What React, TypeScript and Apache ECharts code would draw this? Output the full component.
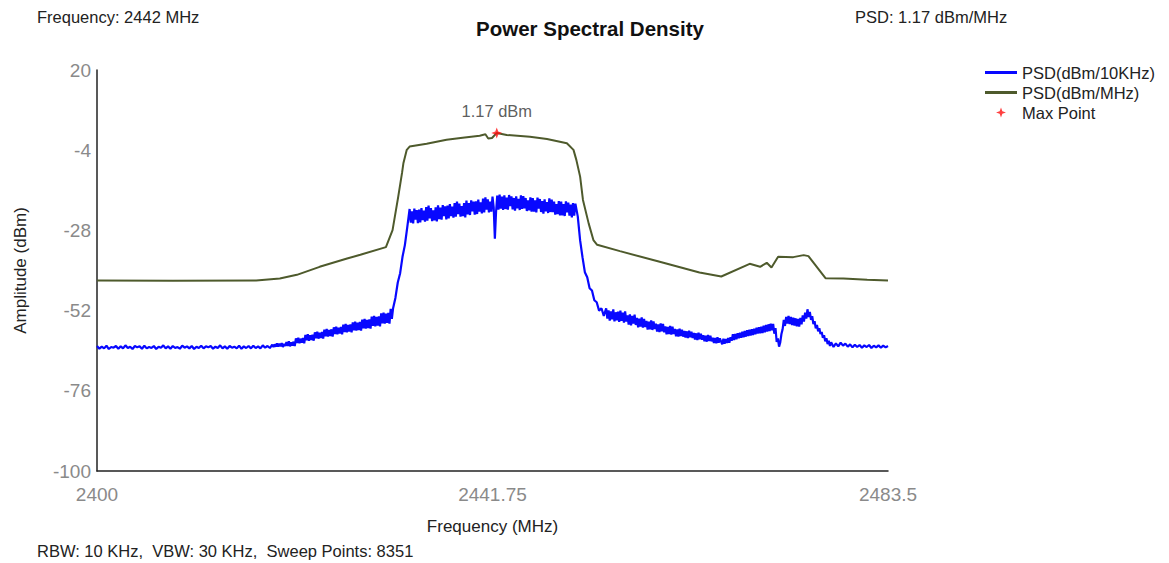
import React, { useEffect, useRef } from "react";
import * as echarts from "echarts";

// ---- data ----
const F0 = 2400; // MHz, start of sweep
const F1 = 2483.5; // MHz, end of sweep
const Y_MIN = -100;
const Y_MAX = 20;
const xTicks = [2400, 2441.75, 2483.5];
const yTicks = [-100, -76, -52, -28, -4, 20];

// PSD (dBm/10KHz), in pieces (start MHz, step MHz, values)
// 2400 - 2418.25, every 0.25 MHz
const psdFloorLeft = [
  -62.6, -63.4, -62.8, -63.3, -62.5, -63.5, -62.9, -63.1, -62.6, -63.4,
  -62.7, -63.3, -62.4, -63.2, -62.8, -63.5, -62.6, -63.0, -62.7, -63.4,
  -62.5, -63.3, -62.9, -63.2, -62.6, -63.5, -62.8, -63.1, -62.4, -63.3,
  -62.7, -63.4, -62.6, -63.2, -62.9, -63.4, -62.5, -63.1, -62.7, -63.3,
  -62.6, -63.5, -62.8, -63.2, -62.5, -63.3, -62.7, -63.0, -62.6, -63.4,
  -62.8, -63.2, -62.4, -63.3, -62.7, -63.4, -62.6, -63.1, -62.8, -63.3,
  -62.5, -63.4, -62.7, -63.2, -62.6, -63.3, -62.5, -63.2, -62.7, -63.3,
  -62.4, -63.1, -62.6, -63.2,
];
// 2418.5 - 2431.25, every 0.125 MHz
const psdRamp = [
  -62.2, -62.9, -62.1, -62.8,
  -61.8, -62.8, -61.9, -62.7, -61.7, -62.9, -62.0, -62.6,
  -61.4, -62.6, -61.2, -62.7, -61.5, -62.5, -61.3, -62.6,
  -60.3, -61.7, -60.1, -61.8, -60.4, -61.6, -60.2, -61.8,
  -59.3, -60.9, -59.1, -61.0, -59.4, -60.8, -59.2, -61.0,
  -58.5, -60.3, -58.3, -60.4, -58.6, -60.2, -58.4, -60.4,
  -57.7, -59.7, -57.5, -59.8, -57.8, -59.6, -57.6, -59.8,
  -57.0, -59.0, -56.8, -59.1, -57.1, -58.9, -56.9, -59.1,
  -56.2, -58.4, -56.0, -58.5, -56.3, -58.3, -56.1, -58.5,
  -55.5, -57.9, -55.3, -58.0, -55.6, -57.8, -55.4, -58.0,
  -54.7, -57.3, -54.5, -57.4, -54.8, -57.2, -54.6, -57.4,
  -53.8, -56.6, -53.6, -56.7, -53.9, -56.5, -53.7, -56.7,
  -52.8, -55.8, -52.6, -55.9, -52.9, -55.7, -52.7, -55.9,
  -51.5, -54.5, -51.4,
];
// 2431.5 - 2432.75, every 0.25 MHz
const psdRise = [-48.2, -43.6, -40.8, -35.9, -32.4, -27.1];
// 2433 - 2450.5, every 0.125 MHz
const psdCore = [
  -21.6, -25.7, -22.3, -25.9, -21.5, -24.8, -21.9, -25.8,
  -21.8, -25.6, -21.3, -24.9, -22.1, -25.4, -21.0, -25.1,
  -20.6, -24.4, -21.3, -25.2, -22.0, -25.0, -21.1, -25.3,
  -20.5, -24.6, -21.2, -24.8, -20.4, -23.7, -20.8, -24.7,
  -20.6, -24.4, -20.1, -23.7, -20.9, -24.2, -19.8, -23.9,
  -19.4, -23.1, -20.0, -23.9, -20.7, -23.7, -19.8, -24.1,
  -19.1, -23.2, -19.8, -23.4, -19.0, -22.3, -19.4, -23.3,
  -19.3, -23.1, -18.8, -22.4, -19.6, -22.9, -18.5, -22.6,
  -18.1, -21.8, -18.7, -22.6, -19.4, -22.4, -17.9, -21.0,
  -30.5, -22.5, -17.6, -21.8, -17.3, -21.5, -17.9, -21.9,
  -17.5, -21.6, -18.2, -21.8, -17.4, -20.7, -17.8, -21.7,
  -18.3, -22.1, -17.8, -21.4, -18.6, -21.9, -17.5, -21.6,
  -17.7, -21.4, -18.3, -22.2, -19.0, -22.0, -18.1, -22.4,
  -18.3, -22.4, -19.0, -22.6, -18.2, -21.5, -18.6, -22.5,
  -19.2, -23.0, -18.7, -22.3, -19.5, -22.8, -18.4, -22.5,
  -18.8, -22.5, -19.4, -23.3, -20.1, -23.1, -19.2, -23.5,
  -19.4, -23.5, -20.1, -23.7, -19.3, -22.6, -19.7, -23.6,
  -20.3, -24.1, -19.8, -23.6, -20.0,
];
// 2450.75 - 2453.5, every 0.25 MHz
const psdFall = [-23.8, -31.0, -36.0, -40.5, -42.0, -45.3, -46.0, -48.9, -49.5, -52.0, -51.3, -53.6];
// 2453.75 - 2465.75, every 0.125 MHz
const psdDecay = [
  -51.3, -54.4,
  -51.9, -55.0, -52.2, -54.6, -51.6, -55.2, -52.5, -54.9,
  -52.3, -55.4, -52.0, -55.1, -52.6, -55.6, -52.2, -55.3,
  -53.4, -56.2, -53.1, -56.4, -53.6, -55.9, -53.2, -56.3,
  -54.2, -57.0, -54.4, -56.8, -54.0, -57.1, -54.5, -56.9,
  -55.1, -57.7, -55.3, -57.6, -54.9, -57.8, -55.2, -57.5,
  -55.9, -58.3, -56.1, -58.4, -55.8, -58.2, -56.0, -58.5,
  -56.7, -59.1, -56.9, -59.0, -56.6, -59.2, -56.8, -59.0,
  -57.5, -59.7, -57.6, -59.8, -57.4, -59.6, -57.7, -59.8,
  -58.1, -60.1, -58.2, -60.2, -58.0, -60.0, -58.3, -60.2,
  -58.7, -60.7, -58.8, -60.8, -58.6, -60.6, -58.9, -60.7,
  -59.4, -61.2, -59.5, -61.3, -59.3, -61.1, -59.5, -61.2,
  -60.1, -61.7, -60.2, -61.8, -60.0, -61.6, -60.3,
];
// 2466 - 2477.5, every 0.125 MHz
const psdBump = [
  -62.1, -60.4, -61.9, -60.5, -61.7, -60.2, -61.6, -60.0,
  -61.0, -59.1, -60.8, -59.0, -60.6, -58.8, -60.3, -58.6,
  -60.1, -58.3, -60.0, -58.1, -59.8, -57.9, -59.6, -57.7,
  -59.5, -57.6, -59.3, -57.4, -59.1, -57.1, -58.9, -57.0,
  -58.8, -56.8, -58.7, -56.5, -58.5, -56.3, -58.3, -56.1,
  -58.1, -55.9, -57.9, -56.0, -58.9, -57.2, -61.4, -60.3,
  -62.8, -61.5, -59.0, -57.6, -54.8, -56.6, -53.9, -55.9,
  -53.6, -56.0, -53.9, -56.3, -54.1, -56.5, -54.3, -56.7,
  -54.5, -56.8, -54.2, -56.1, -53.4, -55.3, -52.6, -54.4,
  -51.6, -53.9, -52.4, -54.8, -53.7, -56.0, -55.2, -57.3,
  -56.3, -58.2, -57.3, -59.0, -58.4, -60.1, -59.4, -61.2,
  -60.3, -62.0, -61.0, -62.6, -61.5,
];
// 2477.75 - 2483.5, every 0.25 MHz
const psdFloorRight = [
  -62.9, -61.8, -62.7, -61.6, -62.5, -61.9, -62.8, -62.1, -63.0, -62.2,
  -62.9, -62.3, -63.1, -62.4, -62.9, -62.3, -63.2, -62.5, -63.0, -62.4,
  -63.1, -62.5, -63.0, -62.6,
];

const psdPieces: [number, number, number[]][] = [
  [2400, 0.25, psdFloorLeft],
  [2418.5, 0.125, psdRamp],
  [2431.5, 0.25, psdRise],
  [2433, 0.125, psdCore],
  [2450.75, 0.25, psdFall],
  [2453.75, 0.125, psdDecay],
  [2466, 0.125, psdBump],
  [2477.75, 0.25, psdFloorRight],
];

// PSD (dBm/MHz)
const mhzFreqs = [
  2400, 2408, 2416.8, 2419.3, 2421.1, 2423.5, 2426.4, 2427.8, 2430.5, 2431.2,
  2431.8, 2432.2, 2432.35, 2432.7, 2433.0, 2434.8, 2436.9, 2438.6, 2440.4, 2441.0,
  2441.3, 2441.7, 2442.2, 2443.25, 2445.7, 2447.5, 2449.6, 2450.3, 2450.6, 2451.0,
  2451.3, 2451.9, 2452.4, 2452.8, 2455.2, 2459.4, 2463.6, 2465.9, 2468.9, 2470.0,
  2470.7, 2471.2, 2471.9, 2473.5, 2474.6, 2475.1, 2476.9, 2478.8, 2481.3, 2483.5,
];
const mhzValues = [
  -43.0, -43.1, -43.0, -42.4, -41.3, -38.9, -36.4, -35.3, -33.0, -27.9,
  -17.9, -10.8, -7.8, -3.9, -2.9, -2.1, -0.9, -0.26, 0.34, 0.76,
  -0.5, -0.35, 1.17, 0.55, 0.04, -0.65, -1.9, -3.9, -6.9, -11.9,
  -18.9, -25.9, -30.9, -32.3, -34.2, -37.4, -40.6, -41.8, -38.0, -38.9,
  -37.7, -39.1, -35.9, -36.0, -35.4, -35.7, -42.3, -42.4, -42.8, -43.0,
];

const maxFreq = 2442.2;
const maxValue = 1.17;

const seriesNames = ["PSD(dBm/10KHz)", "PSD(dBm/MHz)", "Max Point"];
const headerLeft = "Frequency: 2442 MHz";
const headerRight = "PSD: 1.17 dBm/MHz";
const footer = "RBW: 10 KHz,  VBW: 30 KHz,  Sweep Points: 8351";

// ---- chart ----
const FONT = "'Liberation Sans', Arial, sans-serif";
const STAR = "path://M0,-6 L1.6,-1.6 L6,0 L1.6,1.6 L0,6 L-1.6,1.6 L-6,0 L-1.6,-1.6 Z";
const LINE_ICON = "path://M0,0 L32,0 L32,3 L0,3 Z";

// axes are expressed as offsets from the first tick so that min is a multiple of interval
const toX = (f: number) => +(f - F0).toFixed(4);
const toY = (v: number) => +(v - Y_MIN).toFixed(4);

export default function App() {
  const ref = useRef<HTMLDivElement>(null);

  useEffect(() => {
    if (!ref.current) return;
    const chart = echarts.init(ref.current, undefined, { renderer: "svg" });

    const blueData = psdPieces.flatMap(([start, step, vals]) =>
      vals.map((v, i) => [toX(start + i * step), toY(v)])
    );
    const greenData = mhzFreqs.map((f, i) => [toX(f), toY(mhzValues[i])]);
    const xInterval = xTicks[1] - xTicks[0];
    const yInterval = yTicks[1] - yTicks[0];

    chart.setOption({
      animation: false,
      backgroundColor: "#ffffff",
      title: {
        text: "Power Spectral Density",
        left: 585,
        top: 13,
        textAlign: "center",
        textStyle: { fontFamily: FONT, fontSize: 20.5, fontWeight: "bold", color: "#111" },
      },
      graphic: [
        {
          type: "text",
          left: 37,
          top: 8,
          style: { text: headerLeft, fontFamily: FONT, fontSize: 16.5, fill: "#222" },
        },
        {
          type: "text",
          left: 855,
          top: 8,
          style: { text: headerRight, fontFamily: FONT, fontSize: 16.5, fill: "#222" },
        },
        {
          type: "text",
          left: 37,
          top: 542,
          style: { text: footer, fontFamily: FONT, fontSize: 16.5, fill: "#222" },
        },
      ],
      legend: {
        orient: "vertical",
        left: 980,
        top: 59,
        itemWidth: 32,
        itemHeight: 10,
        itemGap: 3,
        symbolKeepAspect: true,
        textStyle: { fontFamily: FONT, fontSize: 16.5, color: "#222" },
        data: [
          { name: seriesNames[0], icon: LINE_ICON },
          { name: seriesNames[1], icon: LINE_ICON },
          { name: seriesNames[2] },
        ],
      },
      grid: { left: 97, right: 281, top: 70, bottom: 92, containLabel: false },
      xAxis: {
        type: "value",
        min: 0,
        max: toX(F1),
        interval: xInterval,
        name: "Frequency (MHz)",
        nameLocation: "middle",
        nameGap: 47,
        nameTextStyle: { fontFamily: FONT, fontSize: 17, color: "#222" },
        axisLine: { show: true, onZero: false, lineStyle: { color: "#222", width: 1.5 } },
        axisTick: { show: false },
        splitLine: { show: false },
        axisLabel: {
          margin: 14,
          fontFamily: FONT,
          fontSize: 19,
          color: "#8a8a8a",
          formatter: (v: number) => String(+(v + F0).toFixed(2)),
          showMaxLabel: true,
          showMinLabel: true,
        },
      },
      yAxis: {
        type: "value",
        min: 0,
        max: Y_MAX - Y_MIN,
        interval: yInterval,
        name: "Amplitude (dBm)",
        nameLocation: "middle",
        nameGap: 68,
        nameTextStyle: { fontFamily: FONT, fontSize: 17, color: "#222" },
        axisLine: { show: true, lineStyle: { color: "#222", width: 1.5 } },
        axisTick: { show: false },
        splitLine: { show: false },
        axisLabel: {
          margin: 6,
          fontFamily: FONT,
          fontSize: 19,
          color: "#8a8a8a",
          formatter: (v: number) => String(Math.round(v + Y_MIN)),
        },
      },
      series: [
        {
          name: seriesNames[1],
          type: "line",
          data: greenData,
          symbol: "none",
          lineStyle: { color: "#4e5a2c", width: 2 },
          itemStyle: { color: "#4e5a2c" },
          z: 2,
        },
        {
          name: seriesNames[0],
          type: "line",
          data: blueData,
          symbol: "none",
          lineStyle: { color: "#0808ff", width: 2.2, join: "bevel" },
          itemStyle: { color: "#0808ff" },
          z: 3,
        },
        {
          name: seriesNames[2],
          type: "scatter",
          data: [[toX(maxFreq), toY(maxValue)]],
          symbol: STAR,
          symbolSize: 11,
          symbolKeepAspect: true,
          itemStyle: { color: "#ff1010" },
          label: {
            show: true,
            position: "top",
            distance: 8,
            formatter: () => `${maxValue} dBm`,
            fontFamily: FONT,
            fontSize: 16.5,
            color: "#333",
          },
          z: 5,
        },
      ],
    });

    return () => chart.dispose();
  }, []);

  return (
    <div
      ref={ref}
      style={{ position: "fixed", left: 0, top: 0, width: 1169, height: 563, background: "#fff" }}
    />
  );
}
